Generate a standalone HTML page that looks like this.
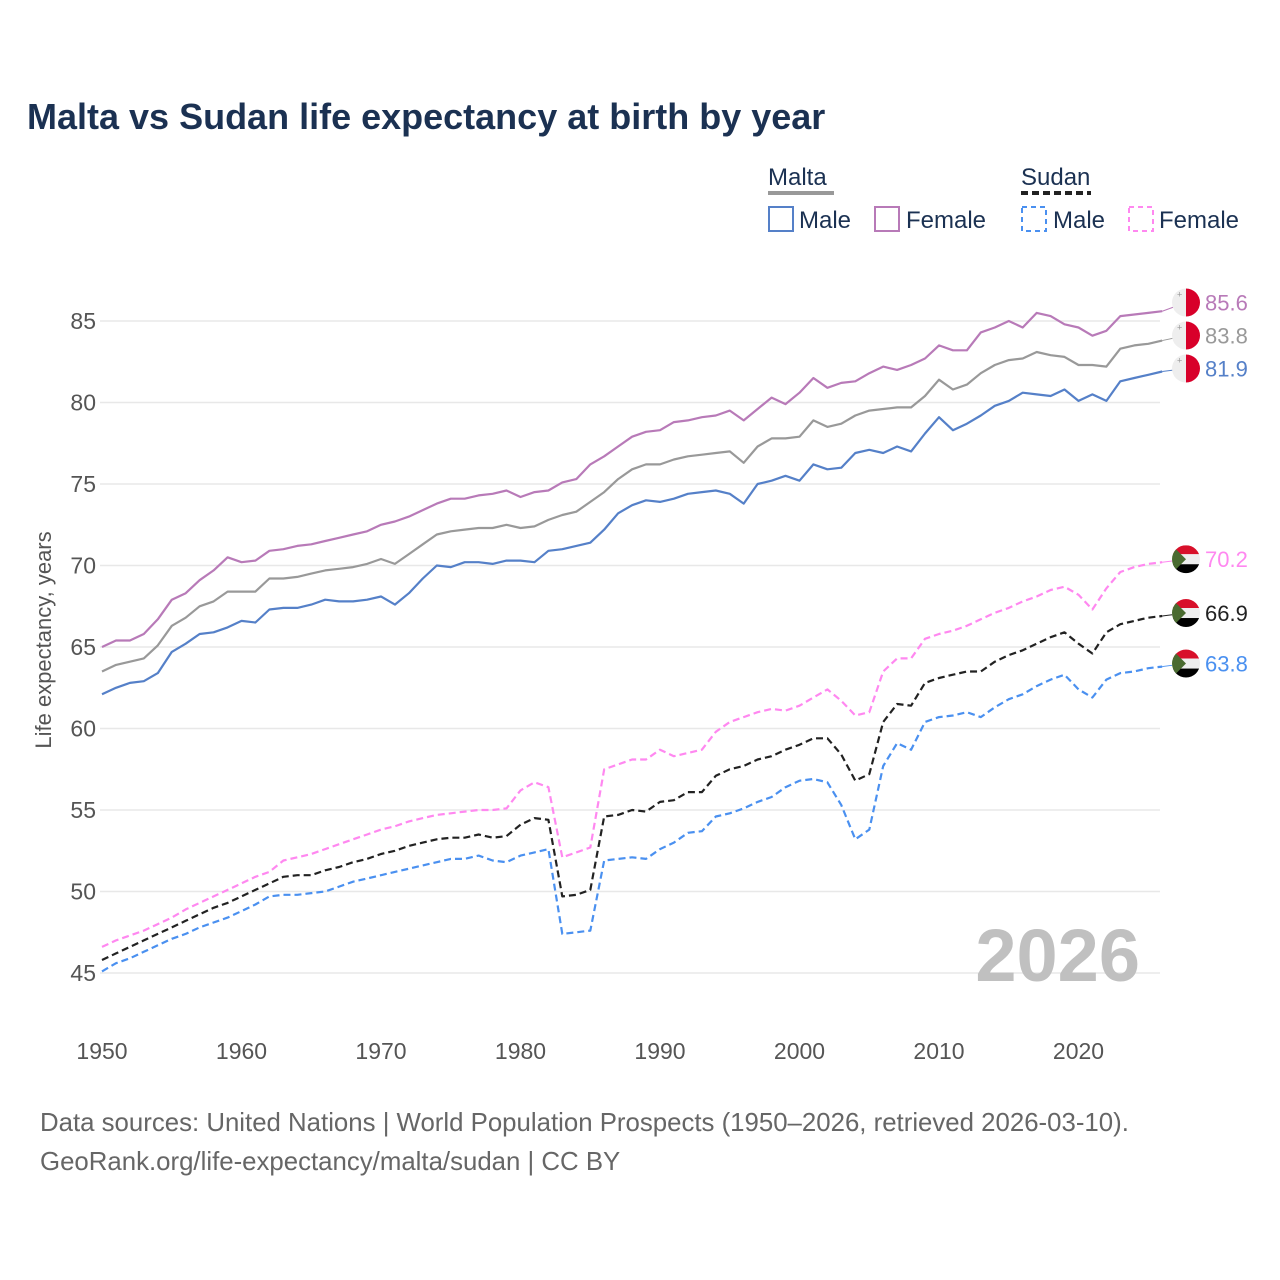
<!DOCTYPE html>
<html><head><meta charset="utf-8"><style>
body{margin:0;background:#fff;}
svg{display:block;font-family:"Liberation Sans",sans-serif;}
</style></head><body>
<svg id="chart" width="1280" height="1280" viewBox="0 0 1280 1280">
<rect width="1280" height="1280" fill="#fff"/>
<text x="27" y="129" font-size="36" font-weight="bold" fill="#1b3152">Malta vs Sudan life expectancy at birth by year</text>
<g>
<text x="768" y="185" font-size="24" fill="#1b3152">Malta</text>
<line x1="768" y1="193" x2="834" y2="193" stroke="#999" stroke-width="4"/>
<text x="1021" y="185" font-size="24" fill="#1b3152">Sudan</text>
<line x1="1021" y1="193" x2="1091" y2="193" stroke="#222" stroke-width="4" stroke-dasharray="7,4"/>
<rect x="769" y="207" width="24" height="24" fill="none" stroke="#5580c8" stroke-width="2"/>
<text x="799" y="228" font-size="24" fill="#1b3152">Male</text>
<rect x="875" y="207" width="24" height="24" fill="none" stroke="#b87ab8" stroke-width="2"/>
<text x="906" y="228" font-size="24" fill="#1b3152">Female</text>
<rect x="1022" y="207" width="24" height="24" fill="none" stroke="#4a90f0" stroke-width="2" stroke-dasharray="5,4"/>
<text x="1053" y="228" font-size="24" fill="#1b3152">Male</text>
<rect x="1129" y="207" width="24" height="24" fill="none" stroke="#ff88f0" stroke-width="2" stroke-dasharray="5,4"/>
<text x="1159" y="228" font-size="24" fill="#1b3152">Female</text>
</g>
<g id="grid"></g>
<text x="1140" y="981" text-anchor="end" font-size="74" font-weight="bold" fill="#c0c0c0">2026</text>
<text transform="translate(51,640) rotate(-90)" text-anchor="middle" font-size="22" fill="#555">Life expectancy, years</text>
<g id="series"></g>
<g id="ends"></g>
<text x="40" y="1131" font-size="25.8" fill="#666">Data sources: United Nations | World Population Prospects (1950–2026, retrieved 2026-03-10).</text>
<text x="40" y="1170" font-size="25.8" fill="#666">GeoRank.org/life-expectancy/malta/sudan | CC BY</text>
</svg>
<script>
const startYear = 1950;
const xTicks = [1950,1960,1970,1980,1990,2000,2010,2020];
const yTicks = [45,50,55,60,65,70,75,80,85];
const maltaMale = [62.1,62.5,62.8,62.9,63.4,64.7,65.2,65.8,65.9,66.2,66.6,66.5,67.3,67.4,67.4,67.6,67.9,67.8,67.8,67.9,68.1,67.6,68.3,69.2,70.0,69.9,70.2,70.2,70.1,70.3,70.3,70.2,70.9,71.0,71.2,71.4,72.2,73.2,73.7,74.0,73.9,74.1,74.4,74.5,74.6,74.4,73.8,75.0,75.2,75.5,75.2,76.2,75.9,76.0,76.9,77.1,76.9,77.3,77.0,78.1,79.1,78.3,78.7,79.2,79.8,80.1,80.6,80.5,80.4,80.8,80.1,80.5,80.1,81.3,81.5,81.7,81.9];
const maltaTotal = [63.5,63.9,64.1,64.3,65.1,66.3,66.8,67.5,67.8,68.4,68.4,68.4,69.2,69.2,69.3,69.5,69.7,69.8,69.9,70.1,70.4,70.1,70.7,71.3,71.9,72.1,72.2,72.3,72.3,72.5,72.3,72.4,72.8,73.1,73.3,73.9,74.5,75.3,75.9,76.2,76.2,76.5,76.7,76.8,76.9,77.0,76.3,77.3,77.8,77.8,77.9,78.9,78.5,78.7,79.2,79.5,79.6,79.7,79.7,80.4,81.4,80.8,81.1,81.8,82.3,82.6,82.7,83.1,82.9,82.8,82.3,82.3,82.2,83.3,83.5,83.6,83.8];
const maltaFemale = [65.0,65.4,65.4,65.8,66.7,67.9,68.3,69.1,69.7,70.5,70.2,70.3,70.9,71.0,71.2,71.3,71.5,71.7,71.9,72.1,72.5,72.7,73.0,73.4,73.8,74.1,74.1,74.3,74.4,74.6,74.2,74.5,74.6,75.1,75.3,76.2,76.7,77.3,77.9,78.2,78.3,78.8,78.9,79.1,79.2,79.5,78.9,79.6,80.3,79.9,80.6,81.5,80.9,81.2,81.3,81.8,82.2,82.0,82.3,82.7,83.5,83.2,83.2,84.3,84.6,85.0,84.6,85.5,85.3,84.8,84.6,84.1,84.4,85.3,85.4,85.5,85.6];
const sudanMale = [45.1,45.6,45.9,46.3,46.7,47.1,47.4,47.8,48.1,48.4,48.8,49.2,49.7,49.8,49.8,49.9,50.0,50.3,50.6,50.8,51.0,51.2,51.4,51.6,51.8,52.0,52.0,52.2,51.9,51.8,52.2,52.4,52.6,47.4,47.5,47.6,51.9,52.0,52.1,52.0,52.6,53.0,53.6,53.7,54.6,54.8,55.1,55.5,55.8,56.4,56.8,56.9,56.7,55.3,53.2,53.8,57.7,59.1,58.7,60.4,60.7,60.8,61.0,60.7,61.3,61.8,62.1,62.6,63.0,63.3,62.4,61.9,63.0,63.4,63.5,63.7,63.8];
const sudanTotal = [45.8,46.2,46.6,47.0,47.4,47.8,48.2,48.6,49.0,49.3,49.7,50.1,50.5,50.9,51.0,51.0,51.3,51.5,51.8,52.0,52.3,52.5,52.8,53.0,53.2,53.3,53.3,53.5,53.3,53.4,54.1,54.5,54.4,49.7,49.8,50.1,54.6,54.7,55.0,54.9,55.5,55.6,56.1,56.1,57.1,57.5,57.7,58.1,58.3,58.7,59.0,59.4,59.4,58.4,56.8,57.2,60.4,61.5,61.4,62.8,63.1,63.3,63.5,63.5,64.1,64.5,64.8,65.2,65.6,65.9,65.2,64.6,65.9,66.4,66.6,66.8,66.9];
const sudanFemale = [46.6,47.0,47.3,47.6,48.0,48.4,48.9,49.3,49.7,50.1,50.5,50.9,51.2,51.9,52.1,52.3,52.6,52.9,53.2,53.5,53.8,54.0,54.3,54.5,54.7,54.8,54.9,55.0,55.0,55.1,56.2,56.7,56.4,52.1,52.4,52.7,57.5,57.8,58.1,58.1,58.7,58.3,58.5,58.7,59.8,60.4,60.7,61.0,61.2,61.1,61.4,61.9,62.4,61.7,60.8,61.0,63.5,64.3,64.3,65.5,65.8,66.0,66.3,66.7,67.1,67.4,67.8,68.1,68.5,68.7,68.2,67.3,68.6,69.6,69.9,70.1,70.2];

const NS='http://www.w3.org/2000/svg';
function X(year){return 102 + (year-1950)*13.95;}
function Y(v){return 973 - (v-45)*16.3;}
function mk(tag,attrs,parent){const e=document.createElementNS(NS,tag);for(const k in attrs)e.setAttribute(k,attrs[k]);parent.appendChild(e);return e;}

const grid=document.getElementById('grid');
yTicks.forEach(t=>{
  const l=mk('line',{x1:100,x2:1160,y1:Y(t),y2:Y(t),stroke:'#e8e8e8','stroke-width':1.5},grid);
  
  
  const tx=mk('text',{x:96,y:Y(t)+8,'text-anchor':'end','font-size':23,fill:'#555'},grid);
  tx.textContent=t;
  
  
});
xTicks.forEach(t=>{
  const tx=mk('text',{x:X(t),y:1059,'text-anchor':'middle','font-size':23,fill:'#555'},grid);
  tx.textContent=t;
  
  
});

const series=[
 {d:sudanMale,c:'#4a90f0',dash:'7,4',n:'sudan-male',lc:'#4a90f0',f:'sd'},
 {d:sudanTotal,c:'#222',dash:'7,4',n:'sudan-total',lc:'#222',f:'sd'},
 {d:sudanFemale,c:'#ff88f0',dash:'7,4',n:'sudan-female',lc:'#ff88f0',f:'sd'},
 {d:maltaMale,c:'#5580c8',dash:null,n:'malta-male',lc:'#5580c8',f:'mt'},
 {d:maltaTotal,c:'#999',dash:null,n:'malta-total',lc:'#999',f:'mt'},
 {d:maltaFemale,c:'#b87ab8',dash:null,n:'malta-female',lc:'#b87ab8',f:'mt'}
];
const sg=document.getElementById('series');
series.forEach(s=>{
  const pts=s.d.map((v,i)=>X(startYear+i).toFixed(1)+','+Y(v).toFixed(1)).join(' ');
  const p=mk('polyline',{points:pts,fill:'none',stroke:s.c,'stroke-width':2.2,'stroke-linejoin':'round'},sg);
  if(s.dash)p.setAttribute('stroke-dasharray',s.dash);
  
  
});

const eg=document.getElementById('ends');
const ends=series.map(s=>({s:s,v:s.d[s.d.length-1],y:Y(s.d[s.d.length-1])})).sort((a,b)=>b.y-a.y);
for(let i=1;i<ends.length;i++){ if(ends[i-1].y-ends[i].y<33) ends[i].y=ends[i-1].y-33; }
ends.forEach(e=>{
  const cx=1186, cy=e.y-3;
  const g=mk('g',{},eg);
  
  
  const lastX=X(startYear+e.s.d.length-1);
  mk('line',{x1:lastX,y1:Y(e.v),x2:cx,y2:cy,stroke:e.s.c,'stroke-width':1},g);
  const id='clip-'+e.s.n;
  const cp=mk('clipPath',{id:id},g);
  mk('circle',{cx:cx,cy:cy,r:14},cp);
  const fg=mk('g',{'clip-path':'url(#'+id+')'},g);
  if(e.s.f==='mt'){
    mk('rect',{x:cx-14,y:cy-14,width:14,height:28,fill:'#eee'},fg);
    mk('rect',{x:cx,y:cy-14,width:14,height:28,fill:'#d8002a'},fg);
    mk('text',{x:cx-9,y:cy-5,'font-size':9,fill:'#999'},fg).textContent='+';
  } else {
    mk('rect',{x:cx-14,y:cy-14,width:28,height:9,fill:'#d8102a'},fg);
    mk('rect',{x:cx-14,y:cy-5,width:28,height:10,fill:'#eee'},fg);
    mk('rect',{x:cx-14,y:cy+5,width:28,height:9,fill:'#000'},fg);
    mk('polygon',{points:(cx-14)+','+(cy-14)+' '+(cx)+','+cy+' '+(cx-14)+','+(cy+14),fill:'#4a6b30'},fg);
  }
  const t=mk('text',{x:1205,y:cy+8,'font-size':22,fill:e.s.lc},g);
  t.textContent=e.v.toFixed(1);
});
</script>
</body></html>
